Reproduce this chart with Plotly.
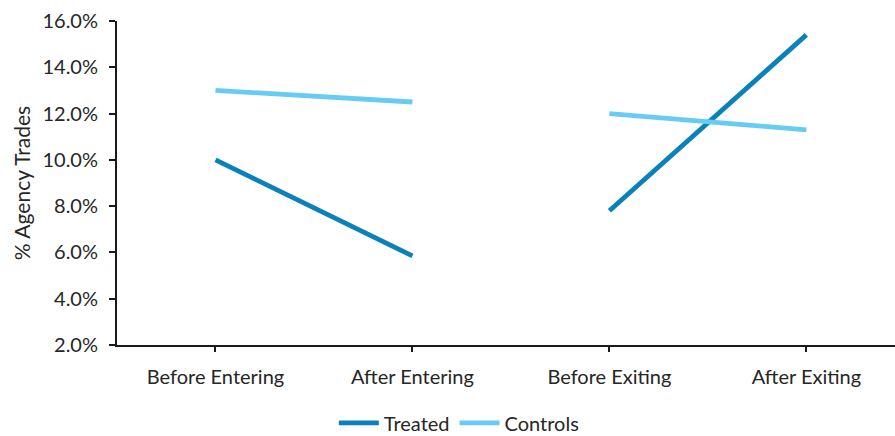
import plotly.graph_objects as go

# Event-window categories and series values (% of trades routed as agency)
categories = ["Before Entering", "After Entering", "Before Exiting", "After Exiting"]
treated = [10.0, 5.85, 7.8, 15.4]
controls = [13.0, 12.5, 12.0, 11.3]
y_ticks = [2, 4, 6, 8, 10, 12, 14, 16]
y_tick_labels = [f"{v:.1f}%" for v in y_ticks]

FONT = "Lato, 'Noto Sans', sans-serif"
TEXT = "#262626"


def split_pairs(values):
    """Entering pair and exiting pair are drawn as separate segments."""
    xs = [0, 1, None, 2, 3]
    ys = [values[0], values[1], None, values[2], values[3]]
    return xs, ys


fig = go.Figure()
for name, vals, color in [("Treated", treated, "#0A82B9"),
                          ("Controls", controls, "#66CCF4")]:
    xs, ys = split_pairs(vals)
    fig.add_trace(go.Scatter(
        x=xs, y=ys, name=name, mode="lines",
        line=dict(color=color, width=4.8),
        connectgaps=False,
    ))

fig.update_layout(
    width=895, height=436,
    margin=dict(l=117, r=0, t=21, b=91, autoexpand=False),
    paper_bgcolor="white", plot_bgcolor="white",
    font=dict(family=FONT, size=20, color=TEXT),
    showlegend=True,
    legend=dict(orientation="h", x=0.44, xanchor="center",
                yref="container", y=0.03, yanchor="middle",
                font=dict(size=20, color=TEXT),
                itemwidth=40, tracegroupgap=0),
    xaxis=dict(
        range=[-0.5, 3.45], automargin=False,
        tickmode="array", tickvals=list(range(len(categories))),
        ticktext=categories,
        showgrid=False, zeroline=False,
        showline=True, linecolor="#1a1a1a", linewidth=2,
        ticks="outside", ticklen=5, tickwidth=2, tickcolor="#1a1a1a",
        tickfont=dict(size=20, color=TEXT), ticklabelstandoff=8,
    ),
    yaxis=dict(
        range=[2, 16], automargin=False,
        tickmode="array", tickvals=y_ticks, ticktext=y_tick_labels,
        showgrid=False, zeroline=False,
        showline=True, linecolor="#1a1a1a", linewidth=2,
        ticks="outside", ticklen=6, tickwidth=2, tickcolor="#1a1a1a",
        tickfont=dict(size=20, color=TEXT), ticklabelstandoff=7,
        title=dict(text="% Agency Trades", font=dict(size=21, color=TEXT),
                   standoff=6),
    ),
)

fig.write_html("out.html")
